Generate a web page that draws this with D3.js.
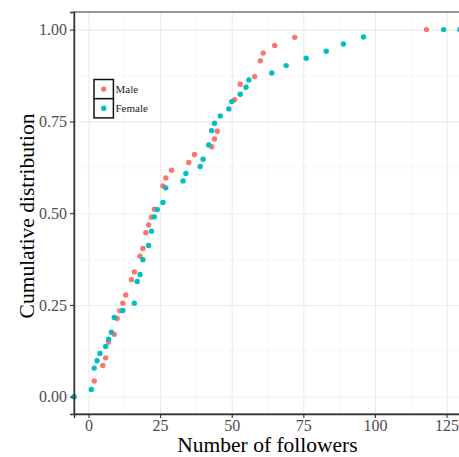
<!-- Cumulative distribution of followers, male vs female -->
<html>
<head>
  <meta charset="utf-8">
  <title>Followers ECDF</title>
  <style>
    body{
      margin: 0;
      background: white;
    }
    text{
      font-family: "Liberation Serif", "Times New Roman", serif;
    }
  </style>
  <script src="https://d3js.org/d3.v7.min.js"></script>
</head>
<body>
  <div id="container"></div>

  <script>
    //*******DATA*******
    // follower counts and ecdf values
    var maleX = [2, 5, 6, 7, 9, 10, 11, 12, 13, 15, 16, 18, 19, 20, 21, 22, 23, 26, 27, 29,
                 35, 37, 43, 44, 45, 51, 53, 58, 60, 61, 65, 72, 118];
    var maleY = [0.043, 0.085, 0.106, 0.149, 0.170, 0.213, 0.234, 0.255, 0.277, 0.319, 0.340,
                 0.383, 0.404, 0.447, 0.468, 0.489, 0.511, 0.574, 0.596, 0.617, 0.638, 0.660,
                 0.681, 0.702, 0.723, 0.809, 0.851, 0.872, 0.915, 0.936, 0.957, 0.979, 1.0];
    var femaleX = [1, 2, 3, 4, 6, 7, 8, 9, 12, 16, 17, 18, 19, 21, 22, 23, 24, 26, 27, 33,
                   34, 39, 40, 42, 43, 44, 46, 49, 50, 53, 55, 56, 64, 69, 76, 83, 89, 96, 124];
    var femaleY = [0.020, 0.078, 0.098, 0.118, 0.137, 0.157, 0.176, 0.216, 0.235, 0.255, 0.314,
                   0.333, 0.373, 0.412, 0.451, 0.490, 0.510, 0.529, 0.569, 0.588, 0.608, 0.627,
                   0.647, 0.686, 0.725, 0.745, 0.765, 0.784, 0.804, 0.824, 0.843, 0.863, 0.882,
                   0.902, 0.922, 0.941, 0.961, 0.980, 1.0];
    var groups = ["Male", "Female"];
    var colors = ["#F8766D", "#00BFC4"];
    var xTicks = [0, 25, 50, 75, 100, 125];
    var yTicks = [0, 0.25, 0.5, 0.75, 1];

    //*******CONSTANTS*******
    const width = 459,
          height = 457,
          panel = {left: 74, top: 12, right: 460, bottom: 414};

    // ecdf also pads each group with a point at -Inf (0) and +Inf (1)
    function makePoints(xs, ys, g){
      var pts = [{x: -Infinity, y: 0, g: g}];
      xs.forEach(function(d, i){ pts.push({x: d, y: ys[i], g: g}); });
      pts.push({x: Infinity, y: 1, g: g});
      return pts;
    }
    var points = makePoints(maleX, maleY, 0).concat(makePoints(femaleX, femaleY, 1));

    //*******SCALES*******
    var x = d3.scaleLinear()
      .domain([-5.06, 129.7])
      .range([panel.left, panel.right])
      .clamp(true);
    var y = d3.scaleLinear()
      .domain([-0.047, 1.048])
      .range([panel.bottom, panel.top]);

    //*******SVG*******
    var svg = d3.select("#container")
      .append("svg")
      .attr("width", width)
      .attr("height", height)
      .style("display", "block");

    var pw = panel.right - panel.left,
        ph = panel.bottom - panel.top;

    // minor gridlines
    svg.append("g")
      .attr("transform", "translate(0," + panel.bottom + ")")
      .call(d3.axisBottom(x).tickValues([12.5, 37.5, 62.5, 87.5, 112.5]).tickSize(-ph).tickFormat(""))
      .call(function(g){ g.select(".domain").remove(); })
      .selectAll("line").attr("stroke", "#f2f2f2").attr("stroke-width", 0.6);
    svg.append("g")
      .attr("transform", "translate(" + panel.left + ",0)")
      .call(d3.axisLeft(y).tickValues([0.125, 0.375, 0.625, 0.875]).tickSize(-pw).tickFormat(""))
      .call(function(g){ g.select(".domain").remove(); })
      .selectAll("line").attr("stroke", "#f2f2f2").attr("stroke-width", 0.6);

    // major gridlines
    svg.append("g")
      .attr("transform", "translate(0," + panel.bottom + ")")
      .call(d3.axisBottom(x).tickValues(xTicks).tickSize(-ph).tickFormat(""))
      .call(function(g){ g.select(".domain").remove(); })
      .selectAll("line").attr("stroke", "#ebebeb").attr("stroke-width", 1.1);
    svg.append("g")
      .attr("transform", "translate(" + panel.left + ",0)")
      .call(d3.axisLeft(y).tickValues(yTicks).tickSize(-pw).tickFormat(""))
      .call(function(g){ g.select(".domain").remove(); })
      .selectAll("line").attr("stroke", "#ebebeb").attr("stroke-width", 1.1);

    // points, female drawn after male
    svg.append("g")
      .selectAll("circle")
      .data(points)
      .enter()
      .append("circle")
      .attr("cx", function(d){ return x(d.x); })
      .attr("cy", function(d){ return y(d.y); })
      .attr("r", 2.7)
      .attr("fill", function(d){ return colors[d.g]; });

    // panel border (top edge visible, right is cut off)
    svg.append("rect")
      .attr("x", panel.left)
      .attr("y", panel.top)
      .attr("width", pw)
      .attr("height", ph)
      .attr("fill", "none")
      .attr("stroke", "#555")
      .attr("stroke-width", 1.2);

    //*******AXES*******
    var xAxis = svg.append("g")
      .attr("transform", "translate(0," + panel.bottom + ")")
      .call(d3.axisBottom(x).tickValues(xTicks).tickSize(4).tickPadding(2).tickFormat(d3.format("d")));
    var yAxis = svg.append("g")
      .attr("transform", "translate(" + panel.left + ",0)")
      .call(d3.axisLeft(y).tickValues(yTicks).tickSize(4).tickPadding(3).tickFormat(d3.format(".2f")));

    [xAxis, yAxis].forEach(function(a){
      a.select(".domain").attr("stroke", "#333").attr("stroke-width", 1.4);
      a.selectAll(".tick line").attr("stroke", "#333").attr("stroke-width", 1.1);
      a.selectAll(".tick text")
        .attr("fill", "#4d4d4d")
        .attr("font-size", 16)
        .attr("font-family", "Liberation Serif, serif");
    });

    // axis titles
    svg.append("text")
      .attr("x", (panel.left + 459) / 2 + 1)
      .attr("y", 452)
      .attr("text-anchor", "middle")
      .attr("font-size", 21.5)
      .text("Number of followers");

    svg.append("text")
      .attr("transform", "translate(33.5," + 216 + ") rotate(-90)")
      .attr("text-anchor", "middle")
      .attr("font-size", 21.5)
      .text("Cumulative distribution");

    //*******LEGEND*******
    var legend = svg.append("g").attr("transform", "translate(94,79.5)");
    groups.forEach(function(name, i){
      legend.append("rect")
        .attr("x", 0)
        .attr("y", i * 19.2)
        .attr("width", 19.4)
        .attr("height", 19.2)
        .attr("fill", "white")
        .attr("stroke", "#111")
        .attr("stroke-width", 1.5);
      legend.append("circle")
        .attr("cx", 9.7)
        .attr("cy", i * 19.2 + 9.6)
        .attr("r", 2.7)
        .attr("fill", colors[i]);
      legend.append("text")
        .attr("x", 21.5)
        .attr("y", i * 19.2 + 13.2)
        .attr("font-size", 11)
        .attr("fill", "#222")
        .text(name);
    });
  </script>
</body>
</html>
